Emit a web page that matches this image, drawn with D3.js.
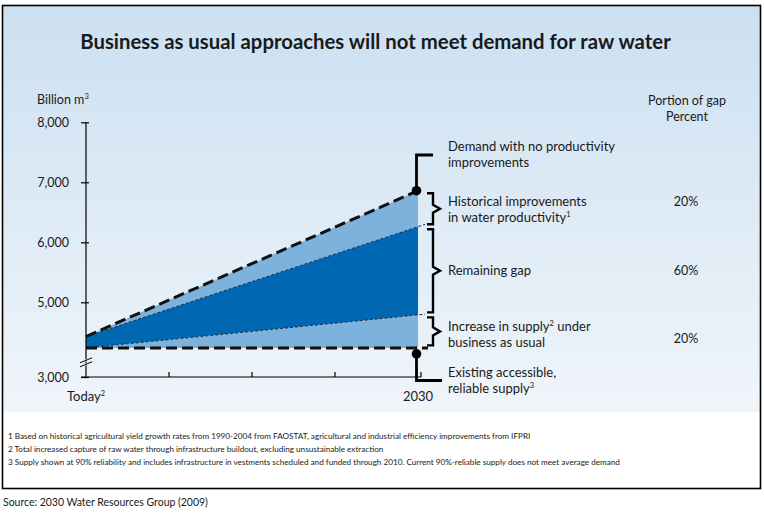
<!DOCTYPE html>
<html><head><meta charset="utf-8">
<script src="https://cdn.jsdelivr.net/npm/d3@7/dist/d3.min.js"></script>
<style>body{margin:0;background:#fff}svg{display:block}text{font-family:Lato,"Open Sans",sans-serif;fill:#1a1a1a}</style>
</head><body><svg id="c" width="764" height="516"></svg>
<script>
// ---- data ----
const years = [2010, 2030];                 // "Today" -> 2030
const xTickLabels = ["Today", "2030"];
const xTickSup = ["2", ""];
const minorYears = [2015, 2020, 2025];
const yTicks = [3000, 5000, 6000, 7000, 8000];
const demand = [4430, 6860];                // demand with no productivity improvements
const afterProductivity = [4430, 6260];     // after historical productivity improvements
const supplyBAU = [4240, 4790];             // supply with business-as-usual increase
const existingSupply = [4240, 4240];        // existing accessible, reliable supply
const gapShares = ["20%", "60%", "20%"];
const title = "Business as usual approaches will not meet demand for raw water";
const footnotes = [
 "1 Based on historical agricultural yield growth rates from 1990-2004 from FAOSTAT, agricultural and industrial efficiency improvements from IFPRI",
 "2 Total increased capture of raw water through infrastructure buildout, excluding unsustainable extraction",
 "3  Supply shown at 90% reliability and includes infrastructure in vestments scheduled and funded through 2010.  Current 90%-reliable supply does not meet average demand"
];
const source = "Source: 2030 Water Resources Group (2009)";

const svg = d3.select("#c");
function fit(sel, target){ const n=sel.node(); const w=n.getComputedTextLength(); const fs=parseFloat(sel.attr("font-size")); sel.attr("font-size", fs*target/w); return fs*target/w; }

// background
const defs = svg.append("defs");
const g = defs.append("linearGradient").attr("id","bg").attr("x1",0).attr("y1",0).attr("x2",0).attr("y2",1);
g.append("stop").attr("offset","0%").attr("stop-color","#cbe0f1");
g.append("stop").attr("offset","100%").attr("stop-color","#f0f5fa");
svg.append("rect").attr("x",3).attr("y",5).attr("width",757).attr("height",407).attr("fill","url(#bg)");
svg.append("rect").attr("x",3).attr("y",412).attr("width",757).attr("height",76).attr("fill","#fff");
svg.append("rect").attr("x",2.5).attr("y",5.5).attr("width",758).attr("height",483).attr("fill","none").attr("stroke","#000").attr("stroke-width",1.6);

// title
const t = svg.append("text").attr("x",375.5).attr("y",49).attr("text-anchor","middle").attr("font-weight","bold").attr("font-size",18).text(title);
fit(t, 591);

// scales
const x = d3.scaleLinear().domain(years).range([86, 418]);
const y = d3.scaleLinear().domain([3000, 4000, 8000]).range([377, 362.3, 122.3]);

// areas
const idx = [0,1];
const band = (top, bot) => d3.area().x(i=>x(years[i])).y0(i=>y(bot[i])).y1(i=>y(top[i]))(idx);
svg.append("path").attr("d", band(demand, afterProductivity)).attr("fill","#7db2dc");
svg.append("path").attr("d", band(afterProductivity, supplyBAU)).attr("fill","#0067b2");
svg.append("path").attr("d", band(supplyBAU, existingSupply)).attr("fill","#7db2dc");

// lines
const ln = (arr, ext) => d3.line().x(d=>d[0]).y(d=>d[1])([[x(years[0]), y(arr[0])],[x(years[1])+ext, y(arr[1]) + (ext? (y(arr[1])-y(arr[0]))/(x(years[1])-x(years[0]))*ext : 0)]]);
svg.append("path").attr("d", ln(afterProductivity, 7)).attr("stroke","#1c2c4a").attr("stroke-width",1).attr("stroke-dasharray","3,2").attr("fill","none");
svg.append("path").attr("d", ln(supplyBAU, 7)).attr("stroke","#1c2c4a").attr("stroke-width",1).attr("stroke-dasharray","3,2").attr("fill","none");
svg.append("path").attr("d", ln(demand, 0)).attr("stroke","#111").attr("stroke-width",3).attr("stroke-dasharray","11,5").attr("fill","none");
svg.append("path").attr("d", ln(existingSupply, 10)).attr("stroke","#111").attr("stroke-width",3).attr("stroke-dasharray","11,5").attr("fill","none");

// axes
const yAxis = svg.append("g").attr("transform","translate(86,0)").call(d3.axisLeft(y).tickValues(yTicks).tickFormat(d3.format(",")).tickSize(5).tickPadding(12));
yAxis.select(".domain").remove();
yAxis.selectAll(".tick line").attr("stroke","#000").attr("stroke-width",1.2).attr("x2",3).attr("x1",-5);
yAxis.selectAll(".tick text").attr("font-size",12.5).attr("font-family","Lato").attr("fill","#1a1a1a").attr("dy","0.35em");
svg.append("line").attr("x1",86).attr("x2",86).attr("y1",y(8000)).attr("y2",y(3000)).attr("stroke","#000").attr("stroke-width",1.2);
svg.append("line").attr("x1",81).attr("x2",x(years[1])+3).attr("y1",y(3000)).attr("y2",y(3000)).attr("stroke","#000").attr("stroke-width",1.2);
svg.selectAll(".xt").data(minorYears.concat([years[1]])).enter().append("line")
  .attr("x1",d=>d===years[1]?x(d)+3:x(d)).attr("x2",d=>d===years[1]?x(d)+3:x(d)).attr("y1",y(3000)).attr("y2",y(3000)-5).attr("stroke","#000").attr("stroke-width",1.2);
// axis break marks
const bk = svg.append("g");
[-2,2].forEach(o=>{
  bk.append("line").attr("x1",80).attr("x2",92).attr("y1",y(4000)+o+2.5).attr("y2",y(4000)+o-2.5).attr("stroke","#eaf2f8").attr("stroke-width",2);
});
[-2,2].forEach(o=>{
  bk.append("line").attr("x1",80).attr("x2",92).attr("y1",y(4000)+o+2.5).attr("y2",y(4000)+o-2.5).attr("stroke","#000").attr("stroke-width",1);
});

// y title
const yt = svg.append("text").attr("x",37).attr("y",104).attr("font-size",12.5);
yt.append("tspan").text("Billion m");
yt.append("tspan").attr("font-size",7.5).attr("dy",-5).text("3");

// x labels
xTickLabels.forEach((lab,i)=>{
  const tx = svg.append("text").attr("x", i===0? 86 : 418).attr("y",401).attr("text-anchor","middle").attr("font-size",13);
  tx.append("tspan").text(lab);
  if (xTickSup[i]) tx.append("tspan").attr("font-size",7.5).attr("dy",-5).text(xTickSup[i]);
});

// dots and leaders
const xe = x(years[1]) - 1.5;
svg.append("path").attr("d",`M${xe},${y(demand[1])}V155H433`).attr("stroke","#000").attr("stroke-width",2.8).attr("fill","none");
svg.append("circle").attr("cx",xe).attr("cy",y(demand[1])).attr("r",4.8).attr("fill","#000");
svg.append("path").attr("d",`M${xe},${y(existingSupply[1])+6}V380.5H442`).attr("stroke","#000").attr("stroke-width",2.8).attr("fill","none");
svg.append("circle").attr("cx",xe).attr("cy",y(existingSupply[1])+6).attr("r",4.8).attr("fill","#000");

// braces
const braces = [[demand[1], afterProductivity[1]], [afterProductivity[1], supplyBAU[1]], [supplyBAU[1], existingSupply[1]]];
braces.forEach(([a,b])=>{
  const t0 = y(a)+2.5, t1 = y(b)-2.5, m = (t0+t1)/2;
  svg.append("path").attr("d",`M427,${t0}H433V${m-4}L440,${m}L433,${m+4}V${t1}H427`).attr("stroke","#000").attr("stroke-width",2.4).attr("fill","none");
});

// labels
const labels = [
  [[["Demand with no productivity"]],[["improvements"]], 151],
  [[["Historical improvements"]],[["in water productivity"],["1",true]], 206],
  [[["Remaining gap"]], null, 275],
  [[["Increase in supply"],["2",true],[" under"]],[["business as usual"]], 331],
  [[["Existing accessible,"]],[["reliable supply"],["3",true]], 377]
];
labels.forEach(([l1,l2,yy])=>{
  [l1,l2].forEach((parts,k)=>{
    if(!parts) return;
    const tx = svg.append("text").attr("x",448).attr("y",yy+k*16).attr("font-size",13);
    parts.forEach(([s,sup],j)=>{
      if(sup) tx.append("tspan").attr("font-size",7.5).attr("dy",-5).text(s);
      else { const ts = tx.append("tspan").text(s); if (j>0 && parts[j-1][1]) ts.attr("dy",5); }
    });
  });
});

// right column
svg.append("text").attr("x",687).attr("y",105).attr("text-anchor","middle").attr("font-size",12.5).text("Portion of gap");
svg.append("text").attr("x",687).attr("y",121).attr("text-anchor","middle").attr("font-size",12.5).text("Percent");
const py = [206, 275, 343];
gapShares.forEach((s,i)=>svg.append("text").attr("x",686).attr("y",py[i]).attr("text-anchor","middle").attr("font-size",12.5).text(s));

// footnotes
let fnSize = 8.5;
footnotes.forEach((f,i)=>{
  const tx = svg.append("text").attr("x",8).attr("y",439+i*13.2).attr("font-size",fnSize).attr("fill","#222").text(f);
  if (i===0) fnSize = fit(tx, 523);
});
const so = svg.append("text").attr("x",3).attr("y",506).attr("font-size",11.5).attr("fill","#222").text(source);
fit(so, 205);
</script></body></html>
